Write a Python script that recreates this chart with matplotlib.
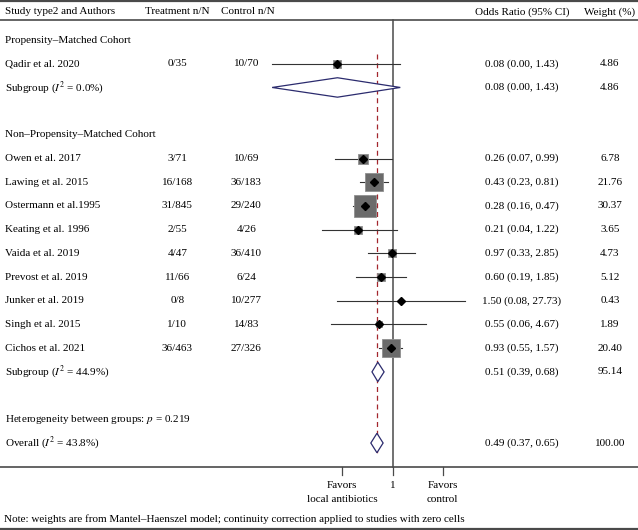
import matplotlib
matplotlib.use('Agg')
import matplotlib.pyplot as plt
import matplotlib.transforms as mtransforms
import numpy as np

plt.rcParams['font.family'] = ['Liberation Serif', 'DejaVu Serif']
plt.rcParams['mathtext.fontset'] = 'stix'

# 数据
studies = ['Qadir et al. 2020', 'Owen et al. 2017', 'Lawing et al. 2015', 'Ostermann et al.1995',
           'Keating et al. 1996', 'Vaida et al. 2019', 'Prevost et al. 2019', 'Junker et al. 2019',
           'Singh et al. 2015', 'Cichos et al. 2021']
treat = ['0/35', '3/71', '16/168', '31/845', '2/55', '4/47', '11/66', '0/8', '1/10', '36/463']
ctrl = ['10/70', '10/69', '36/183', '29/240', '4/26', '36/410', '6/24', '10/277', '14/83', '27/326']
odds = [0.08, 0.26, 0.43, 0.28, 0.21, 0.97, 0.60, 1.50, 0.55, 0.93]
lo = [0.004, 0.07, 0.23, 0.16, 0.04, 0.33, 0.19, 0.08, 0.06, 0.55]
hi = [1.43, 0.99, 0.81, 0.47, 1.22, 2.85, 1.85, 27.73, 4.67, 1.57]
lo_txt = ['0.00', '0.07', '0.23', '0.16', '0.04', '0.33', '0.19', '0.08', '0.06', '0.55']
weight = [4.86, 6.78, 21.76, 30.37, 3.65, 4.73, 5.12, 0.43, 1.89, 20.40]
study_rows = [2, 6, 7, 8, 9, 10, 11, 12, 13, 14]

# 汇总
sum_labels = ['Subgroup ($I^2$ = 0.0%)', 'Subgroup ($I^2$ = 44.9%)', 'Overall ($I^2$ = 43.8%)']
sum_or = [0.08, 0.51, 0.49]
sum_lo = [0.004, 0.39, 0.37]
sum_hi = [1.43, 0.68, 0.65]
sum_lo_txt = ['0.00', '0.39', '0.37']
sum_w = ['4.86', '95.14', '100.00']
sum_rows = [3, 15, 18]

fig = plt.figure(figsize=(6.38, 5.30), dpi=100)
ax = fig.add_axes([0, 0, 1, 1])
ax.set_xscale('log')
px = 21.8  # pixels per ln unit
x1 = 392.5
ax.set_xlim(np.exp(-x1 / px), np.exp((638 - x1) / px))
ax.set_ylim(21.67, -0.69)
ax.axis('off')

tr = mtransforms.blended_transform_factory(fig.transFigure, ax.transData)
fs = 8.0
dark = '#4a4a4a'

# 线
for yy, lw in [(-0.64, 1.6), (0.16, 1.2), (19.02, 1.2), (21.62, 1.6)]:
    ax.plot([0, 1], [yy, yy], transform=tr, color=dark, lw=lw, clip_on=False)
ax.plot([1, 1], [0.16, 19.02], color=dark, lw=1.1)
ax.plot([sum_or[2], sum_or[2]], [1.6, 18.5], color='#a3262d', lw=0.9, dashes=(4, 3))

# 刻度
for t in [0.1, 1, 10]:
    ax.plot([t, t], [19.02, 19.35], color=dark, lw=0.9)
ax.text(1, 19.78, '1', ha='center', va='center', fontsize=fs)
ax.text(0.1, 19.78, 'Favors', ha='center', va='center', fontsize=fs)
ax.text(0.1, 20.37, 'local antibiotics', ha='center', va='center', fontsize=fs)
ax.text(10, 19.78, 'Favors', ha='center', va='center', fontsize=fs)
ax.text(10, 20.37, 'control', ha='center', va='center', fontsize=fs)

# 表头
ax.text(0.008, -0.19, 'Study type2 and Authors', transform=tr, va='center', fontsize=fs)
ax.text(0.278, -0.19, 'Treatment n/N', transform=tr, ha='center', va='center', fontsize=fs)
ax.text(0.388, -0.19, 'Control n/N', transform=tr, ha='center', va='center', fontsize=fs)
ax.text(0.818, -0.19, 'Odds Ratio (95% CI)', transform=tr, ha='center', va='center', fontsize=fs)
ax.text(0.956, -0.19, 'Weight (%)', transform=tr, ha='center', va='center', fontsize=fs)

ax.text(0.008, 1, 'Propensity\u2013Matched Cohort', transform=tr, va='center', fontsize=fs)
ax.text(0.008, 5, 'Non\u2013Propensity\u2013Matched Cohort', transform=tr, va='center', fontsize=fs)
ax.text(0.008, 17, 'Heterogeneity between groups: $p$ = 0.219', transform=tr, va='center', fontsize=fs)
ax.text(0.006, 21.2, 'Note: weights are from Mantel\u2013Haenszel model; continuity correction applied to studies with zero cells',
        transform=tr, va='center', fontsize=fs)

# 研究
for i, r in enumerate(study_rows):
    ax.text(0.008, r, studies[i], transform=tr, va='center', fontsize=fs)
    ax.text(0.278, r, treat[i], transform=tr, ha='center', va='center', fontsize=fs)
    ax.text(0.386, r, ctrl[i], transform=tr, ha='center', va='center', fontsize=fs)
    ax.text(0.818, r, f'{odds[i]:.2f} ({lo_txt[i]}, {hi[i]:.2f})', transform=tr, ha='center', va='center', fontsize=fs)
    ax.text(0.956, r, f'{weight[i]:.2f}', transform=tr, ha='center', va='center', fontsize=fs)
    ax.plot([lo[i], hi[i]], [r, r], color='#333333', lw=0.8)
    ax.plot(odds[i], r, marker='s', ms=2.75 * np.sqrt(weight[i]), color='#6b6b6b', mec='#8f8f8f', mew=0.6)
    ax.plot(odds[i], r, marker='D', ms=3.8, color='black')

# 汇总菱形
for i, r in enumerate(sum_rows):
    ax.text(0.008, r, sum_labels[i], transform=tr, va='center', fontsize=fs)
    ax.text(0.818, r, f'{sum_or[i]:.2f} ({sum_lo_txt[i]}, {sum_hi[i]:.2f})', transform=tr, ha='center', va='center', fontsize=fs)
    ax.text(0.956, r, sum_w[i], transform=tr, ha='center', va='center', fontsize=fs)
    ax.fill([sum_lo[i], sum_or[i], sum_hi[i], sum_or[i], sum_lo[i]],
            [r, r - 0.41, r, r + 0.41, r], facecolor='white', edgecolor='#2b2b6e', lw=0.9, zorder=3)

plt.savefig('out.png', dpi=100)
